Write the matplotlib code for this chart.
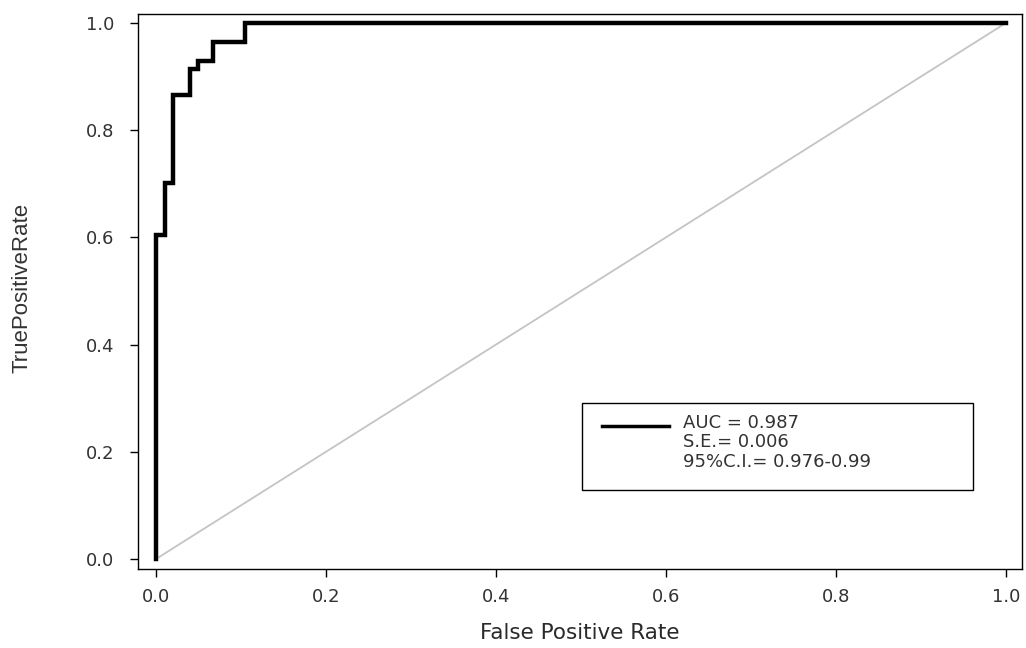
import matplotlib
matplotlib.use("Agg")
import matplotlib.pyplot as plt

# ROC curve steps
fpr = [0.0, 0.0, 0.011, 0.011, 0.020, 0.020, 0.040, 0.040, 0.049, 0.049,
       0.067, 0.067, 0.105, 0.105, 1.0]
tpr = [0.0, 0.605, 0.605, 0.702, 0.702, 0.866, 0.866, 0.915, 0.915, 0.930,
       0.930, 0.965, 0.965, 1.0, 1.0]
chance = [0.0, 1.0]

ticks = [0.0, 0.2, 0.4, 0.6, 0.8, 1.0]
tick_labels = ["0.0", "0.2", "0.4", "0.6", "0.8", "1.0"]
legend_text = "AUC = 0.987\nS.E.= 0.006\n95%C.I.= 0.976-0.99"

plt.rcParams['font.family'] = ['DejaVu Sans']

fig = plt.figure(figsize=(10.26, 6.48), dpi=100)
ax = fig.add_axes([138 / 1026, 1 - 569 / 648, (1022 - 138) / 1026, (569 - 14) / 648])

ax.plot(chance, chance, color='#c4c4c4', lw=1.3, zorder=2)
ax.plot(fpr, tpr, color='black', lw=3.2, solid_joinstyle='miter', zorder=3)

ax.set_xlim(-0.0212, 1.019)
ax.set_ylim(-0.0187, 1.0168)
ax.set_xticks(ticks)
ax.set_xticklabels(tick_labels)
ax.set_yticks(ticks)
ax.set_yticklabels(tick_labels)
ax.tick_params(direction='out', length=6, width=1, labelsize=13, colors='black',
               labelcolor='#333333')
ax.tick_params(axis='y', pad=11)
ax.tick_params(axis='x', pad=8)
for s in ax.spines.values():
    s.set_linewidth(1.0)

ax.set_xlabel("False Positive Rate", fontsize=15.5, color='#2a2a2a', labelpad=12)
fig.text(22 / 1026, 1 - 288 / 648, "TruePositiveRate", rotation=90, ha='center',
         va='center', fontsize=16, color='#333333', family='Liberation Sans')

# legend box drawn as a framed text block
box = plt.Rectangle((582 / 1026, 1 - 490 / 648), (973 - 582) / 1026, (490 - 403) / 648,
                    transform=fig.transFigure, fill=False, lw=1.0, ec='black')
fig.add_artist(box)
fig.add_artist(plt.Line2D([602 / 1026, 669 / 1026], [1 - 426 / 648, 1 - 426 / 648],
                          transform=fig.transFigure, color='black', lw=2.5))
fig.text(683 / 1026, 1 - 414 / 648, legend_text, ha='left', va='top', fontsize=13,
         color='#333333', linespacing=1.1)

fig.savefig("out.png", dpi=100)
